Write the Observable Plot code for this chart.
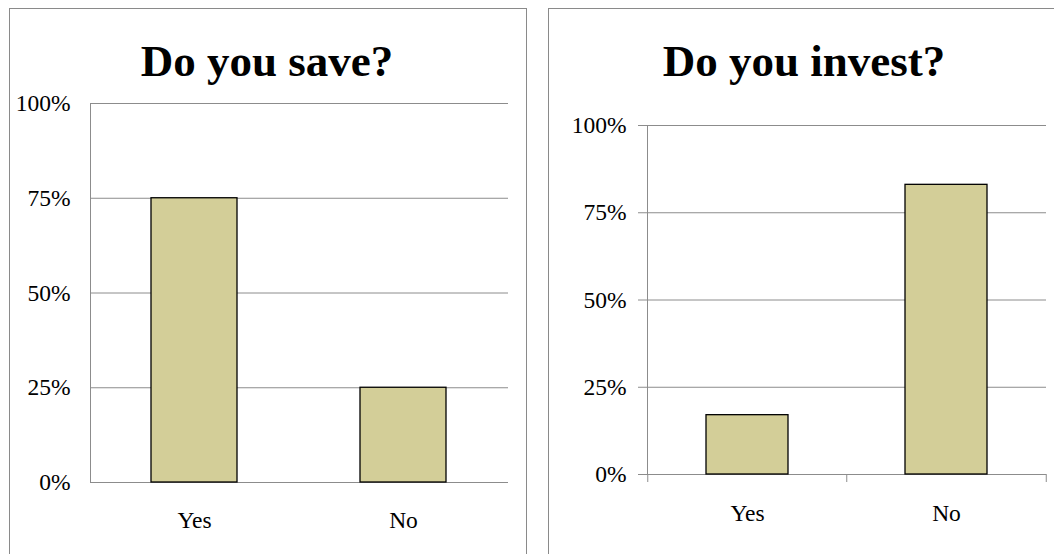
<!DOCTYPE html>
<html>
<head>
<meta charset="utf-8">
<script src="https://cdn.jsdelivr.net/npm/d3@7"></script>
<script src="https://cdn.jsdelivr.net/npm/@observablehq/plot@0.6"></script>
<style>
  html, body { margin: 0; padding: 0; background: #fff; }
  #page { position: relative; width: 1054px; height: 554px; overflow: hidden; background: #fff; }
  .panel { position: absolute; box-sizing: border-box; border: 1px solid #8a8a8a; background: #fff; }
  .title { position: absolute; width: 400px; text-align: center; font-family: "Liberation Serif", "Times New Roman", serif;
           font-weight: bold; font-size: 45px; line-height: 45px; color: #000; white-space: nowrap; }
  .chart { position: absolute; top: 0; }
  .chart svg text { font-family: "Liberation Serif", "Times New Roman", serif; font-size: 23.5px; fill: #000; }
</style>
</head>
<body>
<div id="page">
  <div class="panel" style="left:9px; top:8px; width:518px; height:600px;"></div>
  <div class="panel" style="left:548px; top:8px; width:600px; height:600px;"></div>
  <div class="title" id="t1" style="left:67px; top:39px;"></div>
  <div class="title" id="t2" style="left:604px; top:39px;"></div>
  <div class="chart" id="c1" style="left:0px;"></div>
  <div class="chart" id="c2" style="left:530px;"></div>
</div>
<script>
// ---- data ----
const categories = ["Yes", "No"];
const saveValues = [0.75, 0.25];
const investValues = [0.17, 0.83];
const yTicks = [0, 0.25, 0.5, 0.75, 1];
const saveTitle = "Do you save?";
const investTitle = "Do you invest?";

const saveData = categories.map((c, i) => ({answer: c, share: saveValues[i]}));
const investData = categories.map((c, i) => ({answer: c, share: investValues[i]}));

document.getElementById("t1").textContent = saveTitle;
document.getElementById("t2").textContent = investTitle;

const barFill = "#d3ce98";
const gridColor = "#8c8c8c";
const pct = d3.format(".0%");
const serif = "'Liberation Serif', 'Times New Roman', serif";
const fs = 23.5;
const baseStyle = {background: "transparent", fontFamily: serif, fontSize: fs + "px", color: "#000", overflow: "visible"};
const txt = {fontFamily: serif, fontSize: fs, fill: "#000"};

// ---- left chart ----
const left = Plot.plot({
  width: 530, height: 554,
  marginLeft: 90, marginRight: 22, marginTop: 103, marginBottom: 72,
  style: baseStyle,
  x: {domain: categories, paddingInner: 0.588, paddingOuter: 0.294, label: null},
  y: {domain: [0, 1], label: null},
  marks: [
    Plot.gridY(yTicks, {stroke: gridColor, strokeOpacity: 1}),
    Plot.frame({anchor: "left", stroke: gridColor}),
    Plot.barY(saveData, {x: "answer", y: "share", fill: barFill, stroke: "#000", strokeWidth: 1.3}),
    Plot.axisY(yTicks, {tickSize: 0, tickPadding: 20, tickFormat: pct, label: null, ...txt}),
    Plot.axisX({tickSize: 0, tickPadding: 29, label: null, ...txt})
  ]
});
document.getElementById("c1").appendChild(left);

// ---- right chart ----
const rWidth = 524, rLeft = 117, rRight = 8;
const rStep = (rWidth - rLeft - rRight) / categories.length;
const right = Plot.plot({
  width: rWidth, height: 554,
  marginLeft: rLeft, marginRight: rRight, marginTop: 125, marginBottom: 80,
  style: baseStyle,
  x: {domain: categories, paddingInner: 0.59, paddingOuter: 0.295, label: null},
  y: {domain: [0, 1], label: null},
  marks: [
    Plot.gridY(yTicks, {stroke: gridColor, strokeOpacity: 1}),
    Plot.frame({anchor: "left", stroke: gridColor}),
    Plot.axisX({tickSize: 8, dx: -rStep / 2, fill: "none", stroke: gridColor, label: null}),
    Plot.axisX({ticks: [categories[categories.length - 1]], tickSize: 8, dx: rStep / 2, fill: "none", stroke: gridColor, label: null}),
    Plot.barY(investData, {x: "answer", y: "share", fill: barFill, stroke: "#000", strokeWidth: 1.3}),
    Plot.axisY(yTicks, {tickSize: 9, tickPadding: 12, tickFormat: pct, stroke: gridColor, label: null, ...txt}),
    Plot.axisX({tickSize: 0, tickPadding: 30, label: null, ...txt})
  ]
});
document.getElementById("c2").appendChild(right);
</script>
</body>
</html>
